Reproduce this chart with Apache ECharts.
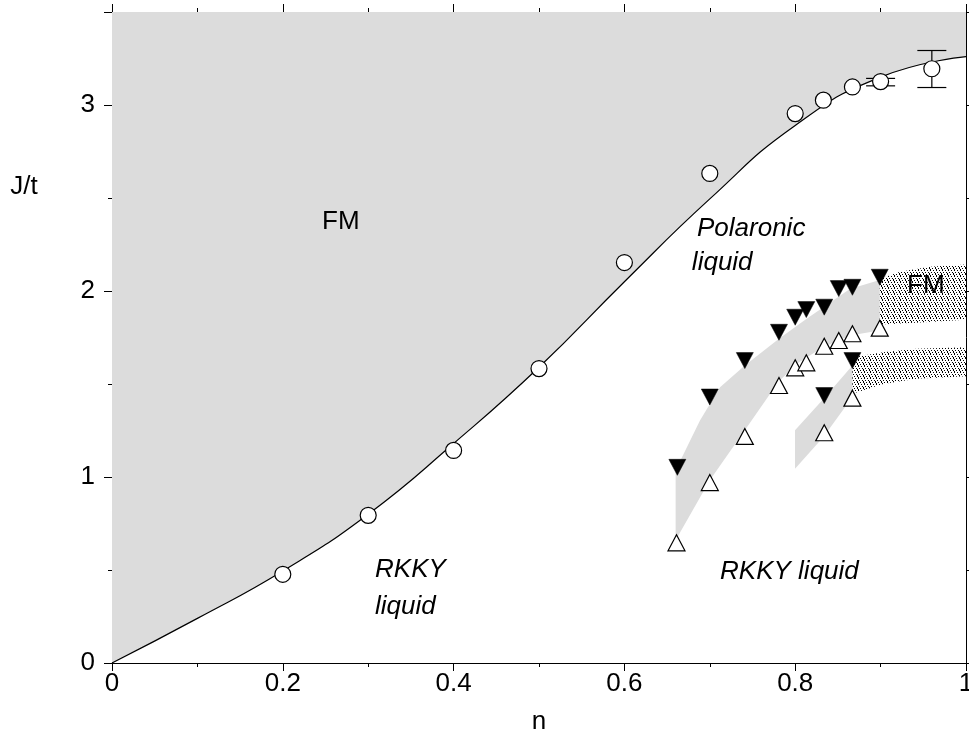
<!DOCTYPE html>
<html><head><meta charset="utf-8">
<script src="https://cdn.jsdelivr.net/npm/echarts@6/dist/echarts.min.js"></script>
<style>html,body{margin:0;padding:0;background:#fff;overflow:hidden}#c{width:969px;height:742px}</style>
</head><body><div id="c"></div>
<script>
// ---- data ----
const xTicks = [0, 0.2, 0.4, 0.6, 0.8, 1];
const yTicks = [0, 1, 2, 3];
// phase boundary curve (n, J/t)
const boundaryN = [0, 0.1, 0.2, 0.3, 0.4, 0.5, 0.6, 0.7, 0.8, 0.9, 1.0];
const boundaryJ = [0, 0.24, 0.495, 0.80, 1.18, 1.59, 2.05, 2.495, 2.89, 3.15, 3.26];
// open circles
const circleN = [0.2, 0.3, 0.4, 0.5, 0.6, 0.7, 0.8, 0.833, 0.867, 0.9, 0.96];
const circleJ = [0.477, 0.794, 1.143, 1.583, 2.153, 2.632, 2.954, 3.026, 3.097, 3.126, 3.195];
// error bars [n, low, high]
const errN = [0.9, 0.96];
const errLow = [3.103, 3.094];
const errHigh = [3.143, 3.293];
// filled down-triangles
const downN = [0.662, 0.700, 0.741, 0.781, 0.800, 0.813, 0.834, 0.851, 0.867, 0.899, 0.834, 0.867];
const downJ = [1.052, 1.430, 1.626, 1.778, 1.859, 1.900, 1.913, 2.013, 2.020, 2.074, 1.438, 1.626];
// open up-triangles
const upN = [0.661, 0.700, 0.741, 0.781, 0.800, 0.813, 0.834, 0.851, 0.867, 0.899, 0.834, 0.867];
const upJ = [0.646, 0.970, 1.218, 1.492, 1.587, 1.614, 1.703, 1.734, 1.770, 1.800, 1.238, 1.424];
// shaded regions (polygons in data coords)
const grayBand1 = [[0.660,1.036],[0.6885,1.304],[0.712,1.483],[0.741,1.600],[0.781,1.743],[0.813,1.850],[0.864,2.011],[0.899,2.059],[0.899,1.787],[0.864,1.761],[0.833,1.699],[0.8017,1.609],[0.780,1.51],[0.741,1.251],[0.700,0.982],[0.660,0.66]];
const grayBand2 = [[0.7998,1.251],[0.833,1.42],[0.867,1.60],[0.867,1.43],[0.833,1.215],[0.7998,1.045]];
const dotBand1 = [[0.899,2.064],[0.9227,2.104],[0.958,2.131],[1.0,2.142],[1.0,1.846],[0.946,1.830],[0.899,1.82]];
const dotBand2 = [[0.867,1.644],[0.903,1.671],[0.942,1.689],[1.0,1.698],[1.0,1.541],[0.942,1.528],[0.903,1.50],[0.867,1.448]];
// annotations [text, n, J, align, italic]
const notes = [
  ['FM', 0.268, 2.373, 'center', false],
  ['Polaronic', 0.685, 2.335, 'left', true],
  ['liquid', 0.679, 2.152, 'left', true],
  ['RKKY', 0.308, 0.499, 'left', true],
  ['liquid', 0.308, 0.30, 'left', true],
  ['RKKY liquid', 0.712, 0.488, 'left', true],
  ['FM', 0.931, 2.03, 'left', false]
];

const FONT = '"Liberation Sans", Arial, Helvetica, sans-serif';
const zip = (a, b) => a.map((v, i) => [v, b[i]]);

const pc = document.createElement('canvas');
pc.width = 6; pc.height = 6;
const pctx = pc.getContext('2d');
pctx.fillStyle = '#000';
[[0,0],[3,0],[1,2],[4,2],[2,4],[5,4],[5,3],[0,5]].forEach(d => pctx.fillRect(d[0], d[1], 1, 1));
const dotPattern = { image: pc, repeat: 'repeat' };

function polySeries(pts, fill, z) {
  return {
    type: 'custom', data: pts, encode: { x: 0, y: 1 }, z: z, silent: true,
    renderItem: function (params, api) {
      if (params.dataIndex !== 0) return null;
      return { type: 'polygon', shape: { points: pts.map(p => api.coord(p)) }, style: { fill: fill, stroke: null } };
    }
  };
}

const axisCommon = {
  min: 0, axisLine: { show: true, onZero: false, lineStyle: { color: '#000', width: 1 } },
  axisTick: { show: true, inside: false, length: 8, lineStyle: { color: '#000' } },
  minorTick: { show: true, splitNumber: 2, length: 4, lineStyle: { color: '#000' } },
  splitLine: { show: false }, minorSplitLine: { show: false }
};

const chart = echarts.init(document.getElementById('c'), null, { renderer: 'canvas', width: 969, height: 742 });
const option = {
  backgroundColor: '#fff',
  animation: false,
  grid: { left: 112, right: 3, top: 12, bottom: 79, containLabel: false, outerBoundsMode: 'none' },
  xAxis: [
    Object.assign({}, axisCommon, { type: 'value', position: 'bottom', max: 1, interval: 0.2,
      axisLabel: { show: true, margin: 8, color: '#000', fontSize: 26, fontFamily: FONT,
        formatter: v => xTicks.includes(+v.toFixed(1)) ? String(+v.toFixed(1)) : '' } }),
    Object.assign({}, axisCommon, { type: 'value', position: 'top', max: 1, interval: 0.2, axisLabel: { show: false } })
  ],
  yAxis: [
    Object.assign({}, axisCommon, { type: 'value', position: 'left', max: 3.5, interval: 1,
      axisLabel: { show: true, margin: 17, color: '#000', fontSize: 26, fontFamily: FONT,
        formatter: v => yTicks.includes(v) ? String(v) : '' } }),
    Object.assign({}, axisCommon, { type: 'value', position: 'right', max: 3.5, interval: 1, axisLabel: { show: false } })
  ],
  series: [
    { type: 'line', data: zip(boundaryN, boundaryJ), smooth: 0.5, symbol: 'none', z: 1,
      lineStyle: { color: '#000', width: 1.2 }, areaStyle: { origin: 'end', color: '#dcdcdc', opacity: 1 } },
    polySeries(grayBand1, '#dcdcdc', 2),
    polySeries(grayBand2, '#dcdcdc', 2),
    polySeries(dotBand1, dotPattern, 2),
    polySeries(dotBand2, dotPattern, 2),
    { type: 'custom', z: 3, data: errN.map((n, i) => [n, errLow[i], errHigh[i]]), encode: { x: 0, y: [1, 2] },
      renderItem: function (params, api) {
        const lo = api.coord([api.value(0), api.value(1)]);
        const hi = api.coord([api.value(0), api.value(2)]);
        const w = 14.5;
        const st = { stroke: '#000', lineWidth: 1.2 };
        return { type: 'group', children: [
          { type: 'line', shape: { x1: lo[0], y1: lo[1], x2: hi[0], y2: hi[1] }, style: st },
          { type: 'line', shape: { x1: lo[0] - w, y1: lo[1], x2: lo[0] + w, y2: lo[1] }, style: st },
          { type: 'line', shape: { x1: hi[0] - w, y1: hi[1], x2: hi[0] + w, y2: hi[1] }, style: st }
        ] };
      } },
    { type: 'scatter', data: zip(circleN, circleJ), symbol: 'circle', symbolSize: 16, z: 4,
      itemStyle: { color: '#fff', borderColor: '#000', borderWidth: 1.2, opacity: 1 } },
    { type: 'scatter', data: zip(upN, upJ), symbol: 'triangle', symbolSize: [17, 16], z: 4,
      itemStyle: { color: '#fff', borderColor: '#000', borderWidth: 1.2, opacity: 1 } },
    { type: 'scatter', data: zip(downN, downJ), symbol: 'triangle', symbolRotate: 180, symbolSize: [17, 16], z: 4,
      itemStyle: { color: '#000', borderColor: '#000', borderWidth: 0.5, opacity: 1 } }
  ]
};
chart.setOption(option);

const g = [];
notes.forEach(nt => {
  const p = chart.convertToPixel({ gridIndex: 0 }, [nt[1], nt[2]]);
  g.push({ type: 'text', x: p[0], y: p[1], z: 10, style: { text: nt[0], fill: '#000', font: (nt[4] ? 'italic ' : '') + '26px ' + FONT,
    align: nt[3], verticalAlign: 'middle' } });
});
g.push({ type: 'text', x: 24, y: 187, z: 10, style: { text: 'J/t', fill: '#000', font: '26px ' + FONT, align: 'center', verticalAlign: 'middle' } });
g.push({ type: 'text', x: 539, y: 722, z: 10, style: { text: 'n', fill: '#000', font: '26px ' + FONT, align: 'center', verticalAlign: 'middle' } });
chart.setOption({ graphic: g });
</script>
</body></html>
